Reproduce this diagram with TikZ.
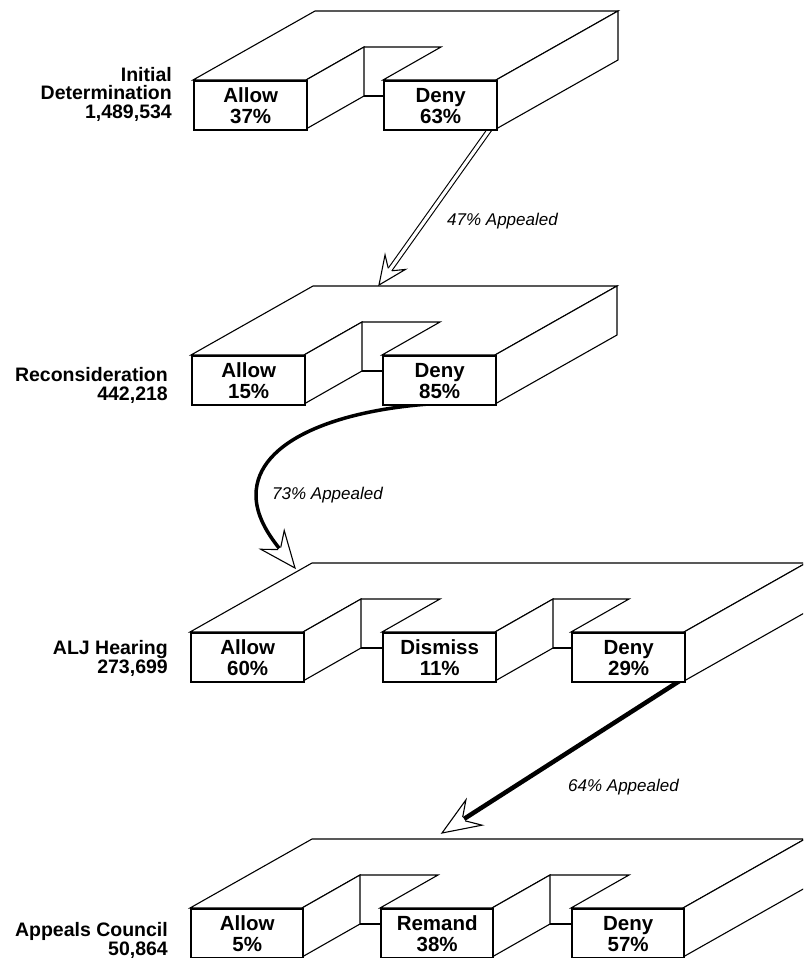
\documentclass[tikz,border=0pt]{standalone}
\usepackage{fontspec}
\setmainfont{Liberation Sans}
\usetikzlibrary{calc}
\pgfdeclarelayer{bgzero}
\pgfdeclarelayer{arrowlayer}
\pgfsetlayers{bgzero,arrowlayer,main}

\tikzset{
  edge/.style={line width=1.1pt, line join=miter, line cap=butt},
  face/.style={edge, fill=white},
  frontbox/.style={draw, line width=2.4pt, fill=white, inner sep=0pt,
     minimum width=113pt, minimum height=49pt, anchor=north west, align=center,
     font=\fontsize{20.5}{21}\selectfont\bfseries},
  stagelabel/.style={anchor=east, align=right, inner sep=0pt,
     font=\fontsize{19.5}{19}\selectfont\bfseries},
  appeal/.style={anchor=west, inner sep=0pt, font=\fontsize{17}{17}\selectfont\itshape},
  hollowshaft/.style={line width=1.1pt, double=white, double distance=3.2pt, line cap=butt},
  thickshaft/.style={line width=#1, line cap=butt},
}

\newcommand\getangle[3]{%
  \pgfmathanglebetweenpoints{\pgfpointanchor{#2}{center}}{\pgfpointanchor{#3}{center}}%
  \global\let#1\pgfmathresult}

% #1 tip, #2 angle, #3 head length, #4 half width, #5 junction distance, #6 half shaft
\newcommand\openhead[6]{%
  \begin{scope}[shift={(#1)}, rotate=#2, x=1pt, y=1pt]
    \filldraw[edge, fill=white] (-#5,#6) -- (-#3,#4) -- (0,0) -- (-#3,-#4) -- (-#5,-#6);
  \end{scope}}

\begin{document}
\begin{tikzpicture}[x=1pt,y=-1pt]
\path[use as bounding box] (0,0) rectangle (803,958);
\begin{pgfonlayer}{bgzero}
  \fill[white] (0,0) rectangle (803,958);
\end{pgfonlayer}
\clip (0,0) rectangle (803,958);

% ---------- Stage 1 ----------
\draw[face] (193,80) -- (315,11) -- (618,11) -- (496,80) -- (383,80) -- (441,47) -- (364,47) -- (306,80) -- cycle;
\draw[face] (496,80) -- (618,11) -- (618,60) -- (496,129) -- cycle;
\draw[face] (306,80) -- (364,47) -- (364,96) -- (306,129);
\draw[edge] (364,96) -- (383,96);
\node[frontbox] (s1a) at (193,80) {Allow\\37\%};
\node[frontbox] (s1d) at (383,80) {Deny\\63\%};
\node[stagelabel, font=\fontsize{19.5}{18.5}\selectfont\bfseries] (l1) at (172,94) {Initial\\Determination\\1,489,534};

% ---------- Stage 2 ----------
\draw[face] (191,355) -- (313,286) -- (617,286) -- (495,355) -- (382,355) -- (440,322) -- (362,322) -- (304,355) -- cycle;
\draw[face] (495,355) -- (617,286) -- (617,335) -- (495,404) -- cycle;
\draw[face] (304,355) -- (362,322) -- (362,371) -- (304,404);
\draw[edge] (362,371) -- (382,371);
\node[frontbox] (s2a) at (191,355) {Allow\\15\%};
\node[frontbox] (s2d) at (382,355) {Deny\\85\%};
\node[stagelabel] (l2) at (168,385) {Reconsideration\\442,218};

% ---------- Stage 3 ----------
\draw[face] (190,632) -- (312,563) -- (806,563) -- (684,632) -- (571,632) -- (629,599) -- (553,599) -- (495,632) -- (382,632) -- (440,599) -- (361,599) -- (303,632) -- cycle;
\draw[face] (684,632) -- (806,563) -- (806,612) -- (684,681) -- cycle;
\draw[face] (303,632) -- (361,599) -- (361,648) -- (303,681);
\draw[edge] (361,648) -- (382,648);
\draw[face] (495,632) -- (553,599) -- (553,648) -- (495,681);
\draw[edge] (553,648) -- (571,648);
\node[frontbox] (s3a) at (190,632) {Allow\\60\%};
\node[frontbox] (s3m) at (382,632) {Dismiss\\11\%};
\node[frontbox] (s3d) at (571,632) {Deny\\29\%};
\node[stagelabel] (l3) at (168,658) {ALJ Hearing\\273,699};

% ---------- Stage 4 ----------
\draw[face] (190,908) -- (312,839) -- (805,839) -- (683,908) -- (571,908) -- (629,875) -- (550,875) -- (492,908) -- (380,908) -- (438,875) -- (360,875) -- (302,908) -- cycle;
\draw[face] (683,908) -- (805,839) -- (805,888) -- (683,957) -- cycle;
\draw[face] (302,908) -- (360,875) -- (360,924) -- (302,957);
\draw[edge] (360,924) -- (380,924);
\draw[face] (492,908) -- (550,875) -- (550,924) -- (492,957);
\draw[edge] (550,924) -- (571,924);
\node[frontbox, minimum width=112pt] (s4a) at (190,908) {Allow\\5\%};
\node[frontbox, minimum width=112pt] (s4r) at (380,908) {Remand\\38\%};
\node[frontbox, minimum width=112pt] (s4d) at (571,908) {Deny\\57\%};
\node[stagelabel] (l4) at (168,940) {Appeals Council\\50,864};

% ---------- Arrow 1 (hollow, straight) ----------
\coordinate (a1start) at ($(s1d.south east)+(-8,-3)$);
\coordinate (a1tip) at (379,285);
\getangle\angA{a1start}{a1tip}
\begin{pgfonlayer}{arrowlayer}
  \draw[hollowshaft] (a1start) -- ($(a1tip)!19pt!(a1start)$);
  \openhead{a1tip}{\angA}{28}{12.5}{19}{2.15}
\end{pgfonlayer}
\node[appeal] (t1) at (447,221) {47\% Appealed};

% ---------- Arrow 2 (curved) ----------
\coordinate (a2start) at (445,403);
\coordinate (a2mid) at (256,495);
\coordinate (a2dir) at (267,533);
\coordinate (a2tip) at (295,568);
\coordinate (a2join) at ($(a2tip)!25pt!(a2dir)$);
\getangle\angB{a2dir}{a2tip}
\begin{pgfonlayer}{arrowlayer}
  \draw[thickshaft=3.5pt] (a2start) .. controls (340,408) and (256,440) .. (a2mid)
        .. controls (256,515) and (a2dir) .. (a2join);
  \openhead{a2tip}{\angB}{36}{15}{25}{1.75}
\end{pgfonlayer}
\node[appeal] (t2) at (272,495) {73\% Appealed};

% ---------- Arrow 3 (thick, straight) ----------
\coordinate (a3start) at ($(s3d.south east)+(-6,-3)$);
\coordinate (a3tip) at (442,833);
\getangle\angC{a3start}{a3tip}
\begin{pgfonlayer}{arrowlayer}
  \draw[thickshaft=4.5pt] (a3start) -- ($(a3tip)!26pt!(a3start)$);
  \openhead{a3tip}{\angC}{38}{15}{26}{2.25}
\end{pgfonlayer}
\node[appeal] (t3) at (568,787) {64\% Appealed};
\end{tikzpicture}
\end{document}
